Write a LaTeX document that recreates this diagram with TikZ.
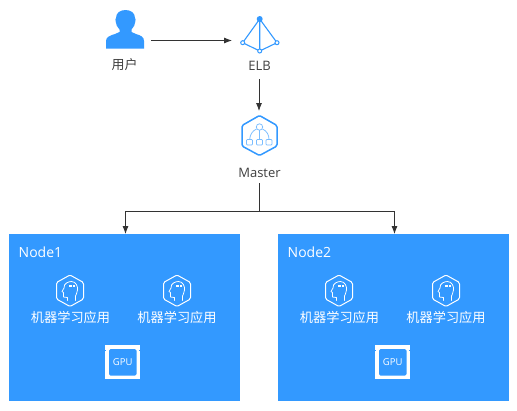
\documentclass[tikz,border=0pt]{standalone}
\usepackage{fontspec}
\setmainfont{Open Sans}
\newfontfamily\cjk{Noto Sans CJK SC}
\usetikzlibrary{arrows.meta}
\definecolor{hwblue}{HTML}{3399FF}
\definecolor{linegray}{HTML}{333333}
\definecolor{textgray}{HTML}{404040}
\tikzset{
  flow/.style={draw=linegray,line width=0.8pt,-{Latex[length=8pt,width=6pt]}},
  flowplain/.style={draw=linegray,line width=0.8pt},
  caption/.style={inner sep=0pt,text=textgray,font=\fontsize{13}{14}\selectfont},
  cluster/.style={fill=hwblue,draw=none,minimum width=231pt,minimum height=167pt,inner sep=0pt},
  whitetext/.style={inner sep=0pt,text=white},
  applabel/.style={whitetext,font=\cjk\fontsize{13.2}{14}\selectfont},
  appicon/.pic={
    \draw[white,line width=1pt,line join=round,rounded corners=1.5pt]
      (0,-16)--(13.5,-8.5)--(13.5,8)--(0,15.5)--(-13.5,8)--(-13.5,-8.5)--cycle;
    \draw[white,line width=0.75pt,line join=round,line cap=round]
      (-2.5,9.5)--(-2.5,6.5)--(-6.5,6) -- (-6.5,1.5) -- (-8,0.5) -- (-6,-3)
      .. controls (-6.5,-8) and (-1,-9.5) .. (1.5,-9.5)
      .. controls (6,-9.5) and (8,-4.5) .. (7.5,-1)
      .. controls (7.5,2) and (5.5,4) .. (5.5,5) -- (5.5,9.5);
    \fill[white] (-1.5,-6.5) rectangle (2,-4.5);
    \fill[white] (2.5,-6) rectangle (4.5,-4);
  },
  gpuicon/.pic={
    \fill[white] (-17.5,-17) rectangle (17.5,17);
    \fill[hwblue,rounded corners=1.5pt] (-13.5,-13) rectangle (14,13.5);
    \fill[hwblue] (-17.5,-12.5) rectangle (-16.5,-11);
    \fill[hwblue] (16.5,-12.5) rectangle (17.5,-11);
    \node[whitetext,font=\fontsize{9.5}{10}\selectfont] at (0.2,0.3) {GPU};
  }
}
\begin{document}
\begin{tikzpicture}[x=1pt,y=-1pt]
\useasboundingbox (0,0) rectangle (517,410);
\fill[white] (0,0) rectangle (517,410);

% user icon
\fill[hwblue] (106,48.7) -- (106,41)
  .. controls (106,37) and (110,35.5) .. (115,34)
  -- (119.5,32) -- (119.5,29.5)
  .. controls (117,27) and (116,24.5) .. (115.8,22)
  .. controls (115,20) and (115.5,19) .. (116,18)
  .. controls (116,13) and (120,10) .. (125.5,10)
  .. controls (131,10) and (135,13) .. (135,18)
  .. controls (135.5,19) and (136,20) .. (135.2,22)
  .. controls (135,24.5) and (134,27) .. (131.5,29.5)
  -- (131.5,32) -- (136,34)
  .. controls (141,35.5) and (144,37) .. (144,41)
  -- (144,48.7) -- cycle;
\node[caption,font=\cjk\fontsize{13}{14}\selectfont] (user) at (124.5,64.5) {用户};
\coordinate (userout) at (151,40.5);

% ELB icon
\coordinate (elbtop) at (259.7,19);
\coordinate (elbl) at (242.7,42.7);
\coordinate (elbr) at (277,42.7);
\coordinate (elbb) at (259.7,51);
\draw[hwblue,line width=1.1pt] (elbtop)--(elbl)--(elbb)--(elbr)--cycle (elbtop)--(elbb);
\fill[hwblue] (elbtop) circle (3pt);
\foreach \p in {elbl,elbr,elbb}
  \filldraw[draw=hwblue,fill=white,line width=1pt] (\p) circle (2pt);
\coordinate (elbin) at (232,40.5);
\node[caption] (elb) at (259.5,66) {ELB};
\coordinate (elbout) at (259,79);

% Master icon
\draw[hwblue,line width=1.5pt,line join=round,rounded corners=1.5pt]
  (259.5,115.5)--(277,125.5)--(277,146)--(259.5,155.5)--(242,146)--(242,125.5)--cycle;
\begin{scope}[hwblue!65,line width=0.75pt]
  \draw (259.5,127) circle (3.2pt);
  \draw (259.5,130.2)--(259.5,139.5);
  \draw (256.5,129) .. controls (252,131) and (250,135) .. (249.7,139.5);
  \draw (262.5,129) .. controls (267,131) and (269,135) .. (269,139.5);
  \draw[rounded corners=0.8pt] (246.5,139.5) rectangle (252.5,145);
  \draw[rounded corners=0.8pt] (256.5,139.5) rectangle (262.5,145);
  \draw[rounded corners=0.8pt] (266,139.5) rectangle (272,145);
\end{scope}
\coordinate (masterin) at (259,111);
\node[caption] (master) at (259.5,173) {Master};
\coordinate (masterout) at (259,183);

% clusters
\node[cluster,anchor=north west] (node1) at (9,234) {};
\node[cluster,anchor=north west] (node2) at (278,234) {};
\coordinate (n1in) at (125.5,234);
\coordinate (n2in) at (394.5,234);
\coordinate (split) at (259,211);

\node[whitetext,font=\fontsize{14}{15}\selectfont,anchor=west] (n1t) at (18.5,252.5) {Node1};
\node[whitetext,font=\fontsize{14}{15}\selectfont,anchor=west] (n2t) at (287.5,252.5) {Node2};

\pic at (70,291) {appicon};
\pic at (177,291) {appicon};
\pic at (339,291) {appicon};
\pic at (446,291) {appicon};
\node[applabel] (a1) at (70.5,317) {机器学习应用};
\node[applabel] (a2) at (177,317) {机器学习应用};
\node[applabel] (a3) at (339.5,317) {机器学习应用};
\node[applabel] (a4) at (446,317) {机器学习应用};
\pic at (122.5,362) {gpuicon};
\pic at (392.5,362) {gpuicon};

% connectors
\draw[flow] (userout) -- (elbin);
\draw[flow] (elbout) -- (masterin);
\draw[flowplain] (masterout) -- (split);
\draw[flow] (split) -| (n1in);
\draw[flow] (split) -| (n2in);
\end{tikzpicture}
\end{document}
